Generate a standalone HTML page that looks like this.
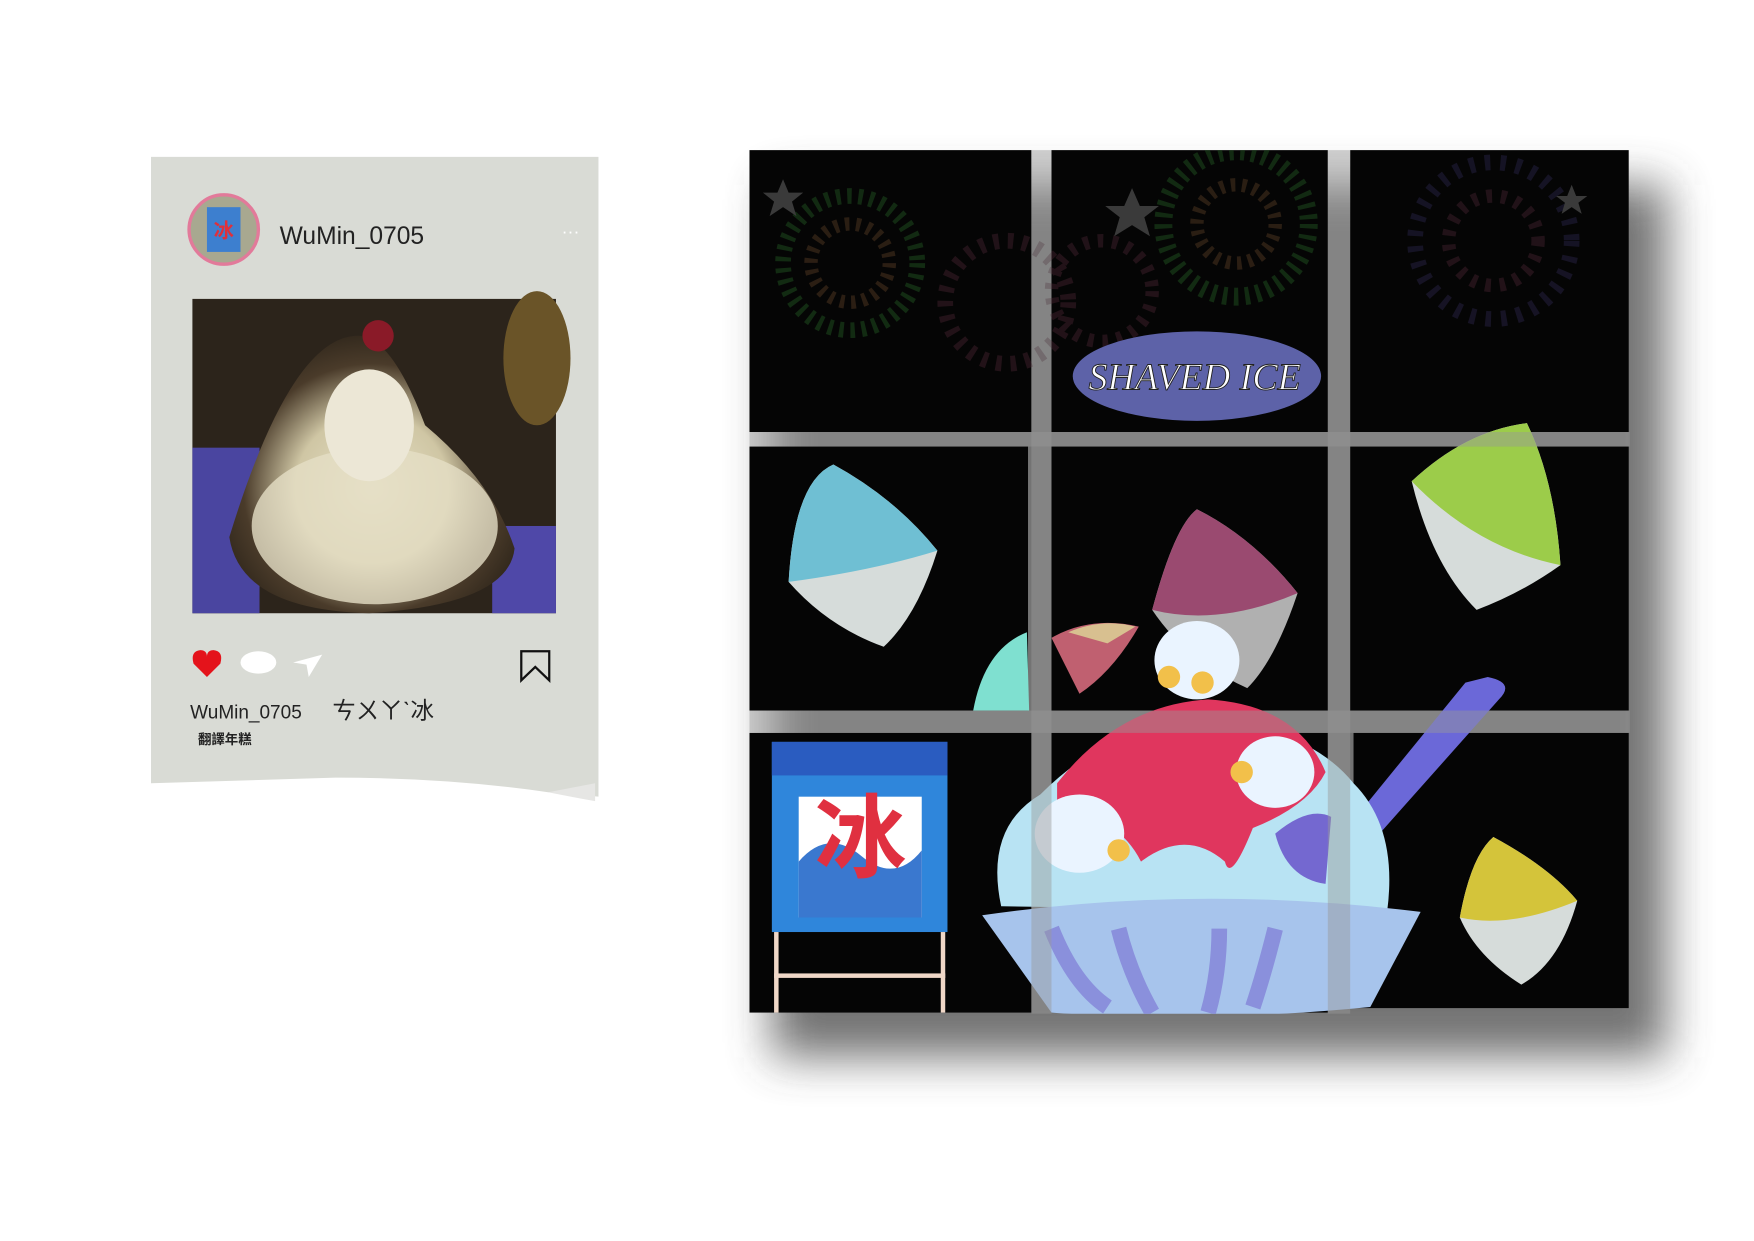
<!DOCTYPE html>
<html><head><meta charset="utf-8"><style>
html,body{margin:0;padding:0;background:#fff;}
svg{display:block;}
</style></head><body>
<svg width="1754" height="1241" viewBox="0 0 1568 1109" xmlns="http://www.w3.org/2000/svg">
<defs>
<filter id="sh" x="-20%" y="-20%" width="140%" height="140%"><feGaussianBlur stdDeviation="20"/></filter>
<clipPath id="gridclip"><rect x="670" y="134" width="787" height="772"/></clipPath>
<radialGradient id="photo" cx="50%" cy="55%" r="60%"><stop offset="0" stop-color="#e8e2c8"/><stop offset="0.45" stop-color="#cfc6a4"/><stop offset="0.75" stop-color="#4a3b2a"/><stop offset="1" stop-color="#2a2218"/></radialGradient>
</defs>
<rect width="1568" height="1109" fill="#fff"/>

<g>
<path d="M135 140 H535 V712 L490 708 Q400 695 300 695 L135 700 Z" fill="#d9dbd5"/>
<path d="M490 708 Q510 712 532 716 L532 700 Z" fill="#e6e6e4"/>
<circle cx="200" cy="205" r="31" fill="#a8a890" stroke="#e27a9a" stroke-width="3"/>
<rect x="185" y="185" width="30" height="40" fill="#3d7fcf"/>
<text x="200" y="212" font-family="'Liberation Sans','Noto Sans CJK TC',sans-serif" font-size="18" fill="#e0303a" text-anchor="middle" font-weight="bold">冰</text>
<text x="250" y="218" font-family="'Liberation Sans',sans-serif" font-size="22" fill="#222">WuMin_0705</text>
<text x="510" y="212" font-family="'Liberation Sans',sans-serif" font-size="16" fill="#fff" text-anchor="middle">···</text>
<g>
<rect x="172" y="267" width="325" height="281" fill="#2c241b"/>
<rect x="172" y="400" width="60" height="148" fill="#4a45a0"/>
<rect x="440" y="470" width="57" height="78" fill="#4f48a8"/>
<ellipse cx="480" cy="320" rx="30" ry="60" fill="#6a5428"/>
<path d="M205 480 Q260 300 320 300 Q350 300 380 380 Q440 430 460 490 Q455 540 330 548 Q215 545 205 480Z" fill="url(#photo)"/>
<ellipse cx="335" cy="470" rx="110" ry="70" fill="#e5dfc6" opacity="0.8"/>
<ellipse cx="330" cy="380" rx="40" ry="50" fill="#ece7d6"/>
<circle cx="338" cy="300" r="14" fill="#8a1a28"/>
</g>
<path d="M185 605 L173 593 Q170 582 179 581 Q185 581 185 587 Q185 581 191 581 Q200 582 197 593 Z" fill="#e4131b"/>
<ellipse cx="231" cy="592" rx="16" ry="10" fill="#fff"/>
<path d="M262 592 L288 585 L276 605 L274 594 Z" fill="#fff"/>
<path d="M466 582 H491 V608 L478.5 596 L466 608 Z" fill="none" stroke="#111" stroke-width="2"/>
<text x="170" y="642" font-family="'Liberation Sans',sans-serif" font-size="17" fill="#222">WuMin_0705</text>
<text x="297" y="642" font-family="'Liberation Sans','Noto Sans CJK TC',sans-serif" font-size="21" fill="#222">ㄘㄨㄚˋ冰</text>
<text x="177" y="665" font-family="'Liberation Sans','Noto Sans CJK TC',sans-serif" font-size="12" font-weight="bold" fill="#222">翻譯年糕</text>
</g>

<rect x="690" y="165" width="800" height="780" fill="#444" filter="url(#sh)" opacity="0.75"/>

<g>
<rect x="670" y="134" width="252" height="252" fill="#050505"/>
<rect x="940" y="134" width="247" height="252" fill="#050505"/>
<rect x="1207" y="134" width="249" height="252" fill="#050505"/>
<rect x="670" y="399" width="249" height="236" fill="#050505"/>
<rect x="940" y="399" width="247" height="236" fill="#050505"/>
<rect x="1207" y="399" width="249" height="236" fill="#050505"/>
<rect x="670" y="655" width="252" height="250" fill="#050505"/>
<rect x="940" y="655" width="247" height="250" fill="#050505"/>
<rect x="1210" y="655" width="246" height="246" fill="#050505"/>
</g>

<g opacity="0.55" clip-path="url(#gridclip)">
<circle cx="760" cy="235" r="60" fill="none" stroke="#1e4a1e" stroke-width="14" stroke-dasharray="4 6"/>
<circle cx="760" cy="235" r="35" fill="none" stroke="#4a3320" stroke-width="12" stroke-dasharray="4 6"/>
<circle cx="1105" cy="200" r="65" fill="none" stroke="#1e4a1e" stroke-width="16" stroke-dasharray="4 6"/>
<circle cx="1105" cy="200" r="35" fill="none" stroke="#4a3320" stroke-width="12" stroke-dasharray="4 6"/>
<circle cx="900" cy="270" r="55" fill="none" stroke="#3a1e28" stroke-width="14" stroke-dasharray="5 8"/>
<circle cx="985" cy="260" r="45" fill="none" stroke="#3a1e28" stroke-width="12" stroke-dasharray="5 8"/>
<circle cx="1335" cy="215" r="70" fill="none" stroke="#24203e" stroke-width="14" stroke-dasharray="5 9"/>
<circle cx="1335" cy="215" r="40" fill="none" stroke="#3a1e28" stroke-width="12" stroke-dasharray="5 8"/>
<path d="M700 160 l5 12 13 0 -10 8 4 13 -12 -8 -12 8 4 -13 -10 -8 13 0z" fill="#666"/>
<path d="M1012 168 l7 16 17 0 -13 10 5 17 -16 -10 -16 10 5 -17 -13 -10 17 0z" fill="#666"/>
<path d="M1405 165 l4 10 10 0 -8 6 3 10 -9 -6 -9 6 3 -10 -8 -6 10 0z" fill="#666"/>
</g>
<ellipse cx="1070" cy="336" rx="111" ry="40" fill="#5d62a8"/>
<text x="1068" y="348" font-family="'Liberation Serif',serif" font-style="italic" font-size="34" fill="#fff" text-anchor="middle" stroke="#222" stroke-width="0.8">SHAVED ICE</text>

<g>
<path d="M705 520 Q710 430 745 415 Q800 445 838 492 Q820 550 790 578 Q740 560 705 520Z" fill="#d6dcda"/>
<path d="M705 520 Q710 430 745 415 Q800 445 838 492 Q780 510 705 520Z" fill="#6fbfd3"/>
</g>
<g>
<path d="M1262 430 Q1310 385 1365 378 Q1390 430 1395 505 Q1360 530 1320 545 Q1280 505 1262 430Z" fill="#d6dcda"/>
<path d="M1262 430 Q1310 385 1365 378 Q1390 430 1395 505 Q1320 490 1262 430Z" fill="#9ccc4a"/>
</g>
<g>
<path d="M1030 545 Q1050 470 1070 455 Q1120 480 1160 530 Q1140 590 1115 615 Q1060 590 1030 545Z" fill="#b0b0b0"/>
<path d="M1030 545 Q1050 470 1070 455 Q1120 480 1160 530 Q1090 560 1030 545Z" fill="#9a4a70"/>
</g>
<g>
<path d="M1305 820 Q1315 765 1335 748 Q1385 775 1410 805 Q1395 860 1360 880 Q1320 855 1305 820Z" fill="#d6dcda"/>
<path d="M1305 820 Q1315 765 1335 748 Q1385 775 1410 805 Q1350 830 1305 820Z" fill="#d4c43a"/>
</g>

<path d="M870 635 Q880 580 918 565 L920 635Z" fill="#7fe0d0"/>
<path d="M940 570 Q975 550 1018 560 Q995 600 965 620 Z" fill="#c06070"/>
<path d="M955 565 Q985 552 1015 560 L990 575Z" fill="#d8c090"/>
<path d="M1330 605 Q1355 610 1340 625 L1220 760 L1200 745 L1310 610Z" fill="#6b68d8"/>

<g clip-path="url(#gridclip)">
<path d="M895 810 Q880 740 930 710 Q990 650 1070 640 Q1170 650 1210 700 Q1250 740 1240 815Z" fill="#b8e3f3"/>
<path d="M945 700 Q1000 630 1080 625 Q1160 630 1185 690 Q1170 720 1120 740 Q1100 790 1095 770 Q1060 740 1020 770 Q1000 730 945 720Z" fill="#e0365e"/>
<path d="M878 818 Q1070 790 1270 815 L1225 900 Q1070 915 940 905 Z" fill="#a7c4ec"/>
<path d="M940 830 Q960 880 990 900 M1000 830 Q1010 870 1030 905 M1090 830 Q1090 870 1080 905 M1140 830 Q1130 870 1120 900" stroke="#8a90dc" stroke-width="14" fill="none"/>
<ellipse cx="1070" cy="590" rx="38" ry="35" fill="#eaf4ff"/>
<ellipse cx="1140" cy="690" rx="35" ry="32" fill="#eaf4ff"/>
<ellipse cx="965" cy="745" rx="40" ry="35" fill="#eaf4ff"/>
<circle cx="1045" cy="605" r="10" fill="#f2c04a"/><circle cx="1075" cy="610" r="10" fill="#f2c04a"/>
<circle cx="1110" cy="690" r="10" fill="#f2c04a"/><circle cx="1000" cy="760" r="10" fill="#f2c04a"/>
<path d="M1140 745 Q1170 720 1190 730 L1185 790 Q1150 785 1140 745Z" fill="#7468d0"/>
</g>

<rect x="922" y="134" width="18" height="772" fill="#9a9a9a" opacity="0.45"/>
<rect x="1187" y="134" width="20" height="772" fill="#9a9a9a" opacity="0.45"/>
<rect x="670" y="386" width="787" height="13" fill="#9a9a9a" opacity="0.45"/>
<rect x="670" y="635" width="787" height="20" fill="#9a9a9a" opacity="0.45"/>

<g>
<rect x="690" y="663" width="157" height="170" fill="#2f86db"/>
<rect x="690" y="663" width="157" height="30" fill="#2a5cc0"/>
<rect x="714" y="712" width="110" height="108" fill="#fff"/>
<path d="M714 770 Q740 740 770 765 Q800 790 824 760 L824 820 H714Z" fill="#3a78cf"/>
<text x="769" y="778" font-family="'Liberation Sans','Noto Sans CJK TC',sans-serif" font-size="82" font-weight="bold" fill="#e03040" text-anchor="middle">冰</text>
<rect x="692" y="833" width="4" height="72" fill="#f0d8c8"/>
<rect x="841" y="833" width="4" height="72" fill="#f0d8c8"/>
<rect x="692" y="870" width="153" height="4" fill="#f0d8c8"/>
</g>
</svg>
</body></html>
